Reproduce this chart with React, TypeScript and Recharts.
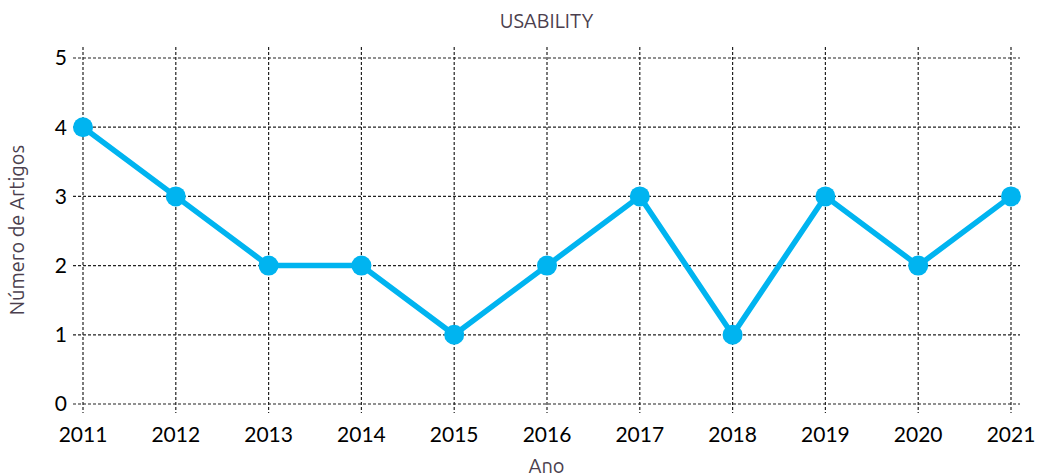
import { LineChart, Line, XAxis, YAxis, CartesianGrid, Label } from "recharts";

const years = [2011, 2012, 2013, 2014, 2015, 2016, 2017, 2018, 2019, 2020, 2021];
const articles = [4, 3, 2, 2, 1, 2, 3, 1, 3, 2, 3];
const yTicks = [0, 1, 2, 3, 4, 5];

const data = years.map((year, i) => ({ year, value: articles[i] }));

const tickFont = { fontFamily: "Lato, sans-serif", fontSize: 21, fill: "#000" };
const labelFont = "Ubuntu, 'Noto Sans', sans-serif";
const labelColor = "#4b3f4e";

export default function App() {
  return (
    <div style={{ position: "absolute", left: 0, top: 0, width: 1038, height: 476, background: "#fff" }}>
      <div
        style={{
          position: "absolute",
          top: 9,
          left: 73,
          width: 947,
          textAlign: "center",
          fontFamily: labelFont,
          fontSize: 20,
          color: labelColor,
        }}
      >
        USABILITY
      </div>
      <LineChart width={1038} height={476} data={data} margin={{ top: 47, right: 18, bottom: 0, left: 0 }}>
        {/* syncWithTicks: lines only at ticks, no extra lines on the padded plot edges */}
        <CartesianGrid stroke="#222" strokeDasharray="3 2" strokeWidth={1.2} syncWithTicks />
        <XAxis
          dataKey="year"
          type="number"
          domain={[2011, 2021]}
          ticks={years}
          padding={{ left: 10, right: 9 }}
          height={63}
          axisLine={false}
          tickLine={false}
          tickSize={0}
          tickMargin={14}
          tick={tickFont}
        >
          <Label
            value="Ano"
            position="insideBottom"
            offset={3}
            style={{ fontFamily: labelFont, fontSize: 20, fill: labelColor }}
          />
        </XAxis>
        <YAxis
          domain={[0, 5]}
          ticks={yTicks}
          padding={{ top: 11, bottom: 9 }}
          width={73}
          axisLine={false}
          tickLine={false}
          tickSize={0}
          tickMargin={6}
          tick={tickFont}
        >
          <Label
            value="Número de Artigos"
            angle={-90}
            position="insideLeft"
            offset={17}
            style={{ fontFamily: labelFont, fontSize: 20, fill: labelColor, textAnchor: "middle" }}
          />
        </YAxis>
        <Line
          dataKey="value"
          stroke="#00b4f0"
          strokeWidth={5.5}
          dot={{ r: 10, fill: "#00b4f0", stroke: "#00b4f0", strokeWidth: 0 }}
          activeDot={false}
          isAnimationActive={false}
        />
      </LineChart>
    </div>
  );
}
